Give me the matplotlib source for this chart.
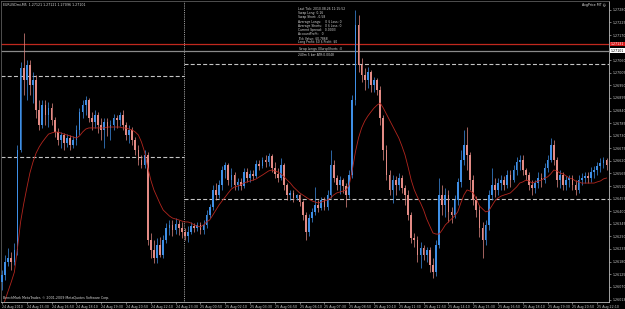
import matplotlib
matplotlib.use("Agg")
import matplotlib.pyplot as plt
import numpy as np

# EURUSD M5 chart, one candle per 10 minutes, 24 Aug 14:10 .. 25 Aug 22:40
opens = [
    1.26091, 1.26121, 1.26178, 1.26196, 1.26178, 1.26230, 1.26667, 1.27026, 1.26973, 1.27039,
    1.26952, 1.26973, 1.26842, 1.26777, 1.26864, 1.26820, 1.26851, 1.26799, 1.26746, 1.26711,
    1.26733, 1.26698, 1.26720, 1.26689, 1.26711, 1.26755, 1.26834, 1.26864, 1.26886, 1.26807,
    1.26790, 1.26820, 1.26777, 1.26755, 1.26790, 1.26764, 1.26777, 1.26807, 1.26799, 1.26820,
    1.26777, 1.26733, 1.26755, 1.26711, 1.26667, 1.26624, 1.26602, 1.26646, 1.26274, 1.26230,
    1.26196, 1.26252, 1.26209, 1.26274, 1.26327, 1.26340, 1.26318, 1.26344, 1.26327, 1.26309,
    1.26292, 1.26309, 1.26335, 1.26327, 1.26340, 1.26318, 1.26340, 1.26383, 1.26418, 1.26493,
    1.26471, 1.26515, 1.26580, 1.26602, 1.26536, 1.26558, 1.26515, 1.26528, 1.26510, 1.26571,
    1.26545, 1.26563, 1.26554, 1.26606, 1.26598, 1.26624, 1.26615, 1.26641, 1.26589, 1.26563,
    1.26545, 1.26602, 1.26515, 1.26471, 1.26480, 1.26458, 1.26471, 1.26440, 1.26383, 1.26309,
    1.26370, 1.26397, 1.26427, 1.26414, 1.26449, 1.26418, 1.26471, 1.26602, 1.26545, 1.26515,
    1.26536, 1.26510, 1.26471, 1.26558, 1.26886, 1.27214, 1.27039, 1.26995, 1.26973, 1.27008,
    1.26952, 1.26973, 1.26930, 1.26807, 1.26667, 1.26558, 1.26493, 1.26536, 1.26515, 1.26545,
    1.26501, 1.26471, 1.26383, 1.26283, 1.26274, 1.26209, 1.26239, 1.26209, 1.26230, 1.26165,
    1.26134, 1.26252, 1.26471, 1.26427, 1.26471, 1.26397, 1.26383, 1.26449, 1.26528, 1.26624,
    1.26689, 1.26646, 1.26536, 1.26449, 1.26405, 1.26327, 1.26274, 1.26340, 1.26471, 1.26515,
    1.26493, 1.26523, 1.26536, 1.26515, 1.26558, 1.26536, 1.26580, 1.26615, 1.26624, 1.26580,
    1.26558, 1.26515, 1.26501, 1.26523, 1.26545, 1.26536, 1.26589, 1.26624, 1.26689, 1.26624,
    1.26536, 1.26558, 1.26515, 1.26536, 1.26545, 1.26515, 1.26493, 1.26536, 1.26545, 1.26554,
    1.26545, 1.26571, 1.26580, 1.26598, 1.26611, 1.26624,
]
highs = [
    1.26143, 1.26209, 1.26239, 1.26222, 1.26261, 1.26689, 1.27052, 1.27179, 1.27061, 1.27061,
    1.27008, 1.26995, 1.26886, 1.26886, 1.26886, 1.26877, 1.26873, 1.26812, 1.26764, 1.26746,
    1.26742, 1.26737, 1.26733, 1.26729, 1.26777, 1.26851, 1.26886, 1.26903, 1.26895, 1.26834,
    1.26842, 1.26834, 1.26807, 1.26807, 1.26807, 1.26799, 1.26825, 1.26820, 1.26834, 1.26842,
    1.26790, 1.26777, 1.26768, 1.26724, 1.26689, 1.26646, 1.26667, 1.26659, 1.26305, 1.26274,
    1.26283, 1.26287, 1.26296, 1.26348, 1.26362, 1.26362, 1.26370, 1.26362, 1.26353, 1.26327,
    1.26335, 1.26353, 1.26348, 1.26353, 1.26353, 1.26362, 1.26405, 1.26432, 1.26515, 1.26523,
    1.26536, 1.26598, 1.26615, 1.26611, 1.26589, 1.26571, 1.26545, 1.26545, 1.26589, 1.26589,
    1.26580, 1.26580, 1.26624, 1.26624, 1.26637, 1.26646, 1.26654, 1.26650, 1.26615, 1.26589,
    1.26633, 1.26611, 1.26523, 1.26493, 1.26493, 1.26475, 1.26475, 1.26449, 1.26397, 1.26388,
    1.26414, 1.26506, 1.26449, 1.26462, 1.26462, 1.26493, 1.26667, 1.26624, 1.26558, 1.26554,
    1.26545, 1.26523, 1.26580, 1.26908, 1.27279, 1.27257, 1.27070, 1.27026, 1.27030, 1.27017,
    1.26987, 1.26982, 1.26947, 1.26820, 1.26689, 1.26580, 1.26558, 1.26554, 1.26567, 1.26558,
    1.26515, 1.26493, 1.26397, 1.26305, 1.26292, 1.26265, 1.26252, 1.26244, 1.26244, 1.26196,
    1.26274, 1.26545, 1.26515, 1.26501, 1.26493, 1.26418, 1.26471, 1.26545, 1.26667, 1.26755,
    1.26768, 1.26659, 1.26558, 1.26466, 1.26427, 1.26353, 1.26362, 1.26493, 1.26589, 1.26545,
    1.26545, 1.26558, 1.26554, 1.26580, 1.26580, 1.26602, 1.26637, 1.26646, 1.26646, 1.26589,
    1.26571, 1.26536, 1.26536, 1.26571, 1.26567, 1.26611, 1.26646, 1.26720, 1.26711, 1.26637,
    1.26580, 1.26571, 1.26554, 1.26558, 1.26558, 1.26536, 1.26558, 1.26567, 1.26571, 1.26571,
    1.26593, 1.26598, 1.26615, 1.26633, 1.26637, 1.26633,
]
lows = [
    1.26056, 1.26099, 1.26161, 1.26143, 1.26165, 1.26209, 1.26659, 1.26908, 1.26886, 1.26908,
    1.26873, 1.26807, 1.26755, 1.26764, 1.26777, 1.26768, 1.26777, 1.26724, 1.26689, 1.26676,
    1.26667, 1.26681, 1.26667, 1.26676, 1.26689, 1.26733, 1.26807, 1.26820, 1.26790, 1.26755,
    1.26764, 1.26742, 1.26711, 1.26676, 1.26729, 1.26711, 1.26755, 1.26764, 1.26772, 1.26755,
    1.26711, 1.26698, 1.26689, 1.26646, 1.26602, 1.26589, 1.26589, 1.26252, 1.26196, 1.26174,
    1.26174, 1.26200, 1.26196, 1.26261, 1.26296, 1.26292, 1.26300, 1.26296, 1.26283, 1.26274,
    1.26265, 1.26300, 1.26309, 1.26314, 1.26300, 1.26300, 1.26327, 1.26370, 1.26405, 1.26449,
    1.26458, 1.26493, 1.26545, 1.26515, 1.26506, 1.26493, 1.26493, 1.26493, 1.26501, 1.26528,
    1.26528, 1.26536, 1.26545, 1.26580, 1.26589, 1.26593, 1.26598, 1.26571, 1.26545, 1.26528,
    1.26536, 1.26493, 1.26449, 1.26449, 1.26440, 1.26449, 1.26423, 1.26362, 1.26274, 1.26292,
    1.26353, 1.26383, 1.26397, 1.26405, 1.26405, 1.26405, 1.26458, 1.26528, 1.26493, 1.26475,
    1.26480, 1.26418, 1.26458, 1.26545, 1.26864, 1.27008, 1.26965, 1.26930, 1.26938, 1.26921,
    1.26921, 1.26908, 1.26777, 1.26624, 1.26536, 1.26471, 1.26436, 1.26471, 1.26493, 1.26480,
    1.26427, 1.26362, 1.26261, 1.26244, 1.26178, 1.26152, 1.26187, 1.26178, 1.26134, 1.26108,
    1.26117, 1.26239, 1.26383, 1.26375, 1.26353, 1.26348, 1.26370, 1.26427, 1.26506, 1.26602,
    1.26580, 1.26493, 1.26427, 1.26375, 1.26287, 1.26196, 1.26252, 1.26318, 1.26449, 1.26462,
    1.26471, 1.26493, 1.26493, 1.26501, 1.26506, 1.26528, 1.26558, 1.26580, 1.26558, 1.26536,
    1.26493, 1.26471, 1.26480, 1.26501, 1.26506, 1.26523, 1.26571, 1.26615, 1.26602, 1.26506,
    1.26501, 1.26493, 1.26493, 1.26506, 1.26493, 1.26471, 1.26480, 1.26515, 1.26523, 1.26523,
    1.26528, 1.26545, 1.26558, 1.26571, 1.26589, 1.26580,
]
closes = [
    1.26121, 1.26178, 1.26196, 1.26178, 1.26230, 1.26667, 1.27026, 1.26973, 1.27039, 1.26952,
    1.26973, 1.26842, 1.26777, 1.26864, 1.26820, 1.26851, 1.26799, 1.26746, 1.26711, 1.26733,
    1.26698, 1.26720, 1.26689, 1.26711, 1.26755, 1.26834, 1.26864, 1.26886, 1.26807, 1.26790,
    1.26820, 1.26777, 1.26755, 1.26790, 1.26764, 1.26777, 1.26807, 1.26799, 1.26820, 1.26777,
    1.26733, 1.26755, 1.26711, 1.26667, 1.26624, 1.26602, 1.26646, 1.26274, 1.26230, 1.26196,
    1.26252, 1.26209, 1.26274, 1.26327, 1.26340, 1.26318, 1.26344, 1.26327, 1.26309, 1.26292,
    1.26309, 1.26335, 1.26327, 1.26340, 1.26318, 1.26340, 1.26383, 1.26418, 1.26493, 1.26471,
    1.26515, 1.26580, 1.26602, 1.26536, 1.26558, 1.26515, 1.26528, 1.26510, 1.26571, 1.26545,
    1.26563, 1.26554, 1.26606, 1.26598, 1.26624, 1.26615, 1.26641, 1.26589, 1.26563, 1.26545,
    1.26602, 1.26515, 1.26471, 1.26480, 1.26458, 1.26471, 1.26440, 1.26383, 1.26309, 1.26370,
    1.26397, 1.26427, 1.26414, 1.26449, 1.26418, 1.26471, 1.26602, 1.26545, 1.26515, 1.26536,
    1.26510, 1.26471, 1.26558, 1.26886, 1.27214, 1.27039, 1.26995, 1.26973, 1.27008, 1.26952,
    1.26973, 1.26930, 1.26807, 1.26667, 1.26558, 1.26493, 1.26536, 1.26515, 1.26545, 1.26501,
    1.26471, 1.26383, 1.26283, 1.26274, 1.26209, 1.26239, 1.26209, 1.26230, 1.26165, 1.26134,
    1.26252, 1.26471, 1.26427, 1.26471, 1.26397, 1.26383, 1.26449, 1.26528, 1.26624, 1.26689,
    1.26646, 1.26536, 1.26449, 1.26405, 1.26327, 1.26274, 1.26340, 1.26471, 1.26515, 1.26493,
    1.26523, 1.26536, 1.26515, 1.26558, 1.26536, 1.26580, 1.26615, 1.26624, 1.26580, 1.26558,
    1.26515, 1.26501, 1.26523, 1.26545, 1.26536, 1.26589, 1.26624, 1.26689, 1.26624, 1.26536,
    1.26558, 1.26515, 1.26536, 1.26545, 1.26515, 1.26493, 1.26536, 1.26545, 1.26554, 1.26545,
    1.26571, 1.26580, 1.26598, 1.26611, 1.26624, 1.26602,
]
# moving average as drawn on the chart
ma = [
    1.25968, 1.26012, 1.26051, 1.26091, 1.26134, 1.26239, 1.26353, 1.26432, 1.26501, 1.26567,
    1.26615, 1.26654, 1.26681, 1.26702, 1.26720, 1.26737, 1.26742, 1.26746, 1.26746, 1.26742,
    1.26737, 1.26733, 1.26729, 1.26724, 1.26720, 1.26729, 1.26746, 1.26759, 1.26764, 1.26764,
    1.26764, 1.26764, 1.26764, 1.26764, 1.26768, 1.26768, 1.26768, 1.26768, 1.26768, 1.26764,
    1.26764, 1.26759, 1.26755, 1.26746, 1.26733, 1.26702, 1.26659, 1.26593, 1.26536, 1.26493,
    1.26462, 1.26432, 1.26405, 1.26392, 1.26379, 1.26370, 1.26366, 1.26362, 1.26357, 1.26353,
    1.26353, 1.26348, 1.26340, 1.26335, 1.26331, 1.26340, 1.26353, 1.26362, 1.26383, 1.26405,
    1.26427, 1.26445, 1.26462, 1.26480, 1.26497, 1.26506, 1.26510, 1.26515, 1.26523, 1.26528,
    1.26532, 1.26536, 1.26541, 1.26550, 1.26558, 1.26567, 1.26576, 1.26580, 1.26576, 1.26571,
    1.26563, 1.26550, 1.26536, 1.26523, 1.26506, 1.26493, 1.26480, 1.26471, 1.26462, 1.26453,
    1.26445, 1.26440, 1.26436, 1.26440, 1.26445, 1.26449, 1.26458, 1.26471, 1.26480, 1.26484,
    1.26488, 1.26493, 1.26515, 1.26580, 1.26659, 1.26720, 1.26764, 1.26794, 1.26816, 1.26834,
    1.26851, 1.26864, 1.26873, 1.26851, 1.26825, 1.26799, 1.26772, 1.26746, 1.26720, 1.26685,
    1.26646, 1.26593, 1.26536, 1.26493, 1.26462, 1.26436, 1.26405, 1.26366, 1.26335, 1.26305,
    1.26300, 1.26300, 1.26318, 1.26340, 1.26353, 1.26366, 1.26379, 1.26397, 1.26436, 1.26471,
    1.26493, 1.26488, 1.26480, 1.26453, 1.26423, 1.26410, 1.26397, 1.26401, 1.26423, 1.26445,
    1.26458, 1.26466, 1.26471, 1.26475, 1.26480, 1.26493, 1.26506, 1.26523, 1.26528, 1.26536,
    1.26532, 1.26523, 1.26528, 1.26532, 1.26536, 1.26545, 1.26550, 1.26563, 1.26580, 1.26576,
    1.26567, 1.26563, 1.26554, 1.26545, 1.26541, 1.26532, 1.26528, 1.26523, 1.26523, 1.26523,
    1.26523, 1.26523, 1.26528, 1.26532, 1.26541, 1.26545,
]

time_labels = [
    "24 Aug 2010", "24 Aug 15:30", "24 Aug 16:50", "24 Aug 18:10", "24 Aug 19:30",
    "24 Aug 20:50", "24 Aug 22:10", "24 Aug 23:30", "25 Aug 00:50", "25 Aug 02:10",
    "25 Aug 03:30", "25 Aug 04:50", "25 Aug 06:10", "25 Aug 07:30", "25 Aug 08:50",
    "25 Aug 10:10", "25 Aug 11:30", "25 Aug 12:50", "25 Aug 14:10", "25 Aug 15:30",
    "25 Aug 16:50", "25 Aug 18:10", "25 Aug 19:30", "25 Aug 20:50", "25 Aug 22:10",
]
price_ticks = [
    1.26013, 1.26070, 1.26125, 1.26180, 1.26235, 1.26290, 1.26345, 1.26400, 1.26455,
    1.26510, 1.26565, 1.26620, 1.26675, 1.26730, 1.26785, 1.26840, 1.26895, 1.26950,
    1.27005, 1.27060, 1.27170, 1.27225, 1.27280,
]
bid = 1.27101
ask = 1.27131
levels_24 = [1.26991, 1.26637]
levels_25 = [1.27043, 1.26453]

header = "EURUSDmi,M5  1.27121 1.27121 1.27096 1.27101"
info_lines = [
    "Last Tick: 2010.08.26 11:15:52",
    "Swap Long: 0.16",
    "Swap Short: -0.58",
    "Average Longs:    0 $ Loss: 0",
    "Average Shorts:   0 $ Loss: 0",
    "Current Spread:   0.0003",
    "AccountProfit:   0",
    "Tick Value: $0.7868",
    "Long Profit: $0 $ Profit: $0",
    "Swap Longs: $0 Swap Shorts: $0",
    "240m 5 bar ATR:0.0048",
]

W, H = 625, 309
FS = 2.3
fig = plt.figure(figsize=(W / 100, H / 100), dpi=100, facecolor="black")
ax = fig.add_axes([1 / W, 7 / H, 608 / W, 301 / H], facecolor="black")

o = np.array(opens)
c = np.array(closes)
x = np.arange(len(c))
cols = np.where(c >= o, "#3f8fe6", "#e38b85")

ax.vlines(x, lows, highs, colors=cols, lw=0.5, zorder=3)
ax.bar(x, np.maximum(np.abs(c - o), 0.00002), bottom=np.minimum(o, c),
       width=0.55, color=cols, lw=0, zorder=3)
ax.plot(x, ma, color="#b3261e", lw=0.6, zorder=4)

sep = 58.8
ax.hlines(levels_24, -0.4, sep, colors="#c4c4c4", lw=0.8, linestyles=(0, (3.6, 2.0)), zorder=2)
ax.hlines(levels_25, sep, 196, colors="#c4c4c4", lw=0.8, linestyles=(0, (3.6, 2.0)), zorder=2)
ax.axvline(sep, color="#d0d0d0", lw=0.6, ls=(0, (1, 1.2)), zorder=2)
ax.axhline(ask, color="#c0281e", lw=0.9, zorder=2)
ax.axhline(bid, color="#8a8a8a", lw=0.9, zorder=2)

ax.set_xlim(-0.32, 195.8)
ax.set_ylim(1.26003, 1.27319)

ax.yaxis.tick_right()
ax.set_yticks(price_ticks)
ax.set_yticklabels(["%.5f" % p for p in price_ticks])
ax.set_xticks(range(0, len(time_labels) * 8, 8))
ax.set_xticklabels(time_labels)
for lab in ax.get_xticklabels():
    lab.set_ha("left")
ax.tick_params(axis="both", labelsize=FS, colors="#c8c8c8", length=1.5, width=0.4, pad=0.8)

for s in ("right", "bottom"):
    ax.spines[s].set_color("#bcbcbc")
    ax.spines[s].set_linewidth(0.6)
for s in ("left", "top"):
    ax.spines[s].set_color("#5c5c5c")
    ax.spines[s].set_linewidth(0.6)

ax.annotate("%.5f" % ask, xy=(1.0, ask), xycoords=("axes fraction", "data"),
            xytext=(1.2, 0), textcoords="offset points", fontsize=FS, color="white",
            va="center", ha="left",
            bbox=dict(boxstyle="square,pad=0.15", fc="#d41a1a", ec="none"))
ax.annotate("%.5f" % bid, xy=(1.0, bid), xycoords=("axes fraction", "data"),
            xytext=(1.2, 0), textcoords="offset points", fontsize=FS, color="black",
            va="center", ha="left",
            bbox=dict(boxstyle="square,pad=0.15", fc="white", ec="none"))

txt = "#d8d8d8"
fig.text(3 / W, 1 - 4.7 / H, header, fontsize=FS, color=txt, va="center")
fig.text(606 / W, 1 - 4.7 / H, "AvgPrice MT \u263a", fontsize=FS, color=txt, va="center", ha="right")
# info block as one multi-line text
fig.text(298 / W, 1 - 7.0 / H, "\n".join(info_lines), fontsize=2.2, color=txt,
         va="top", ha="left", linespacing=1.06)
fig.text(3 / W, 1 - 298 / H, "BenchMark MetaTrader, \u00a9 2001-2009 MetaQuotes Software Corp.",
         fontsize=FS, color=txt, va="center")

fig.savefig("out.png", dpi=100, facecolor="black")
